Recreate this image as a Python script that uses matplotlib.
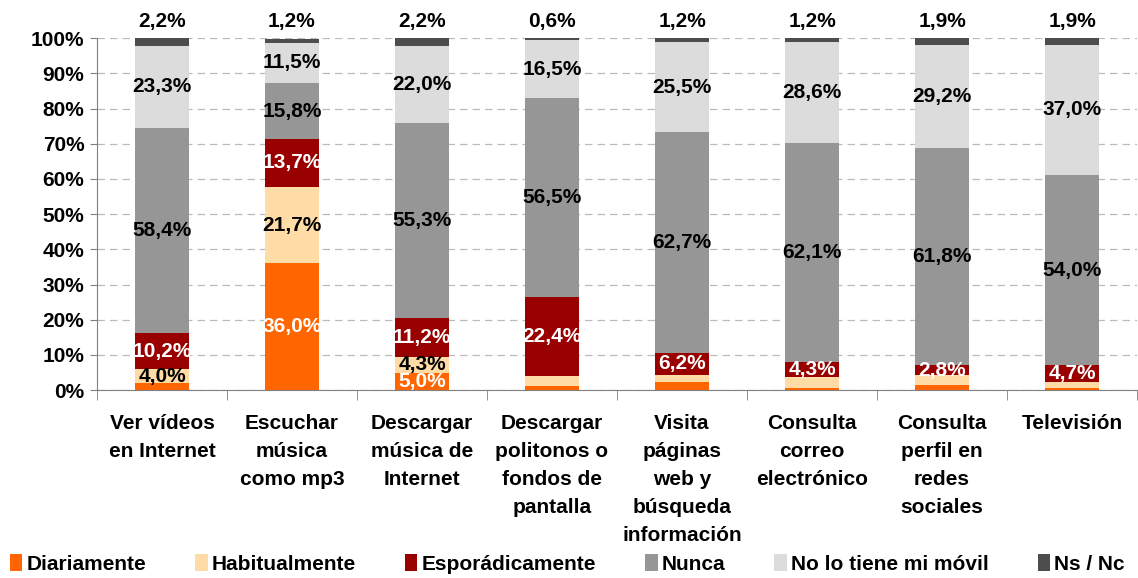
import numpy as np
from matplotlib import pyplot as plt
from matplotlib.patches import Patch

plt.rcParams['font.family'] = ['Liberation Sans', 'DejaVu Sans']
plt.rcParams['font.weight'] = 'bold'

categories = ["Ver vídeos\nen Internet", "Escuchar\nmúsica\ncomo mp3", "Descargar\nmúsica de\nInternet",
              "Descargar\npolitonos o\nfondos de\npantalla", "Visita\npáginas\nweb y\nbúsqueda\ninformación",
              "Consulta\ncorreo\nelectrónico", "Consulta\nperfil en\nredes\nsociales", "Televisión"]
series = ["Diariamente", "Habitualmente", "Esporádicamente", "Nunca", "No lo tiene mi móvil", "Ns / Nc"]

diariamente = [1.9, 36.0, 5.0, 1.3, 2.4, 0.7, 1.4, 0.7]
habitualmente = [4.0, 21.7, 4.3, 2.7, 2.0, 3.1, 2.9, 1.7]
esporadicamente = [10.2, 13.7, 11.2, 22.4, 6.2, 4.3, 2.8, 4.7]
nunca = [58.4, 15.8, 55.3, 56.5, 62.7, 62.1, 61.8, 54.0]
no_tiene = [23.3, 11.5, 22.0, 16.5, 25.5, 28.6, 29.2, 37.0]
ns_nc = [2.2, 1.2, 2.2, 0.6, 1.2, 1.2, 1.9, 1.9]

colors = ["#FF6600", "#FFDBA6", "#990000", "#969696", "#DCDCDC", "#4D4D4D"]
# which bars get a label, per series
show = [
    [False, True, True, False, False, False, False, False],
    [True, True, True, False, False, False, False, False],
    [True] * 8,
    [True] * 8,
    [True] * 8,
    [True] * 8,
]
txt_color = ["white", "black", "white", "black", "black", "black"]

data = [diariamente, habitualmente, esporadicamente, nunca, no_tiene, ns_nc]
fs = 15

fig = plt.figure(figsize=(11.38, 5.78), dpi=100)
ax = fig.add_axes([0.0852, 0.325, 0.914, 0.609])

x = np.arange(len(categories))
bottom = np.zeros(len(categories))
for i, vals in enumerate(data):
    vals = np.array(vals)
    ax.bar(x, vals, 0.42, bottom=bottom, color=colors[i], zorder=2)
    for j, v in enumerate(vals):
        if not show[i][j]:
            continue
        label = f"{v:.1f}%".replace(".", ",")
        if i == 5:
            ax.text(x[j], 100 + 2.0, label, ha='center', va='bottom', fontsize=fs,
                    fontweight='bold', color='black', clip_on=False)
        else:
            ax.text(x[j], bottom[j] + v / 2, label, ha='center', va='center', fontsize=fs,
                    fontweight='bold', color=txt_color[i], zorder=3)
    bottom += vals

ax.set_xlim(-0.5, len(categories) - 0.5)
ax.set_ylim(0, 100)
ax.set_yticks(np.arange(0, 101, 10))
ax.set_yticklabels([f"{v}%" for v in range(0, 101, 10)], fontsize=fs, fontweight='bold')
ax.yaxis.grid(True, linestyle=(0, (6, 4)), color="#BBBBBB", linewidth=0.9, zorder=0)

ax.set_xticks(x)
ax.set_xticklabels(categories, fontsize=fs, fontweight='bold', va='top', linespacing=1.6)
ax.tick_params(axis='x', length=0, pad=17)
ax.set_xticks(np.arange(-0.5, len(categories), 1), minor=True)
ax.tick_params(axis='x', which='minor', length=7, color='#808080')
ax.tick_params(axis='y', length=5, color='#808080', pad=4)

for s in ['top', 'right']:
    ax.spines[s].set_visible(False)
for s in ['left', 'bottom']:
    ax.spines[s].set_color('#808080')

handles = [Patch(facecolor=c) for c in colors]
fig.legend(handles, series, loc='lower left', bbox_to_anchor=(-0.008, -0.025), ncol=6,
           frameon=False, handlelength=0.6, handleheight=0.9,
           handletextpad=0.2, columnspacing=2.35, prop={'weight': 'bold', 'size': fs})

fig.savefig("out.png", dpi=100)
